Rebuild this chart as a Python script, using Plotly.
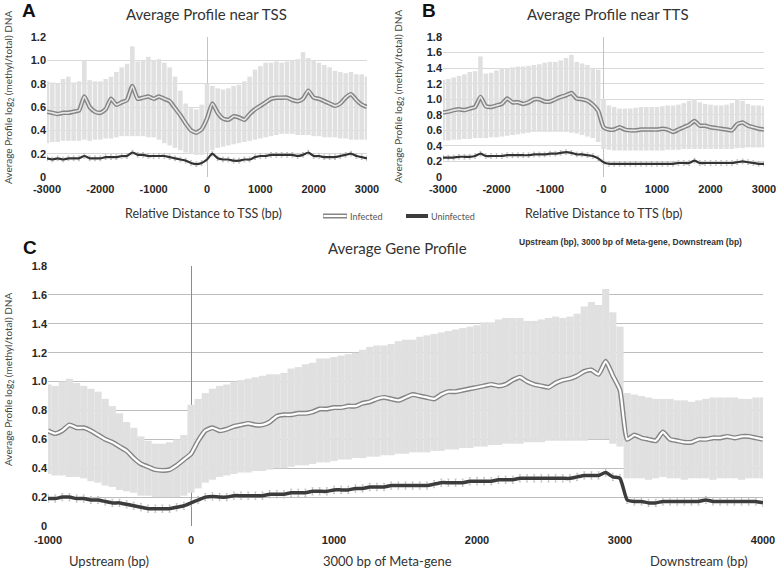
import plotly.graph_objects as go

W, H = 778, 570

# ---------------- Panel A: Average Profile near TSS ----------------
dist_A = list(range(-3000, 3001, 100))
inf_A = [0.56, 0.55, 0.54, 0.55, 0.55, 0.56, 0.57, 0.69, 0.60, 0.56,
         0.55, 0.58, 0.67, 0.62, 0.64, 0.66, 0.78, 0.67, 0.68, 0.69,
         0.67, 0.69, 0.67, 0.65, 0.59, 0.53, 0.46, 0.40, 0.38, 0.41,
         0.50, 0.63, 0.55, 0.50, 0.49, 0.52, 0.51, 0.49, 0.54, 0.58,
         0.61, 0.64, 0.67, 0.68, 0.68, 0.68, 0.66, 0.65, 0.67, 0.74,
         0.68, 0.67, 0.65, 0.63, 0.61, 0.63, 0.68, 0.71, 0.66, 0.62,
         0.60]
inf_up_A = [0.82, 0.81, 0.80, 0.84, 0.86, 0.81, 0.82, 1.00, 0.83, 0.82,
            0.82, 0.84, 0.86, 0.90, 0.94, 0.97, 1.12, 0.99, 1.00, 1.03,
            1.00, 1.01, 0.98, 0.94, 0.86, 0.74, 0.63, 0.59, 0.58, 0.62,
            0.80, 0.78, 0.76, 0.75, 0.76, 0.78, 0.79, 0.82, 0.86, 0.92,
            0.95, 0.98, 0.98, 0.99, 0.98, 0.99, 1.00, 1.01, 1.07, 1.02,
            1.00, 0.98, 0.96, 0.94, 0.91, 0.90, 0.89, 0.90, 0.88, 0.88,
            0.86]
inf_lo_A = [0.29, 0.30, 0.30, 0.31, 0.31, 0.31, 0.31, 0.32, 0.31, 0.32,
            0.32, 0.33, 0.33, 0.34, 0.35, 0.35, 0.35, 0.35, 0.35, 0.34,
            0.34, 0.32, 0.29, 0.27, 0.25, 0.23, 0.21, 0.20, 0.19, 0.19,
            0.21, 0.23, 0.25, 0.26, 0.27, 0.28, 0.29, 0.30, 0.31, 0.32,
            0.33, 0.34, 0.35, 0.36, 0.37, 0.37, 0.37, 0.36, 0.36, 0.36,
            0.35, 0.35, 0.34, 0.34, 0.34, 0.33, 0.33, 0.32, 0.32, 0.32,
            0.32]
uninf_A = [0.16, 0.15, 0.16, 0.15, 0.16, 0.16, 0.16, 0.18, 0.16, 0.16,
           0.16, 0.17, 0.17, 0.17, 0.18, 0.18, 0.21, 0.19, 0.19, 0.18,
           0.18, 0.18, 0.18, 0.17, 0.16, 0.15, 0.14, 0.12, 0.11, 0.12,
           0.15, 0.20, 0.16, 0.15, 0.15, 0.14, 0.14, 0.15, 0.15, 0.17,
           0.18, 0.18, 0.19, 0.19, 0.19, 0.19, 0.19, 0.18, 0.19, 0.21,
           0.18, 0.18, 0.17, 0.17, 0.17, 0.18, 0.19, 0.20, 0.18, 0.17,
           0.16]
uninf_err_A = 0.02

# ---------------- Panel B: Average Profile near TTS ----------------
dist_B = list(range(-3000, 3001, 100))
inf_B = [0.83, 0.84, 0.86, 0.87, 0.86, 0.88, 0.90, 1.03, 0.91, 0.90,
         0.92, 0.94, 1.01, 0.96, 0.96, 0.94, 0.96, 1.00, 1.00, 0.97,
         0.97, 1.00, 1.03, 1.05, 1.08, 1.01, 1.00, 0.98, 0.93, 0.85,
         0.64, 0.61, 0.61, 0.64, 0.61, 0.60, 0.60, 0.61, 0.61, 0.61,
         0.61, 0.62, 0.61, 0.58, 0.61, 0.64, 0.67, 0.72, 0.66, 0.66,
         0.64, 0.63, 0.62, 0.61, 0.60, 0.68, 0.70, 0.66, 0.64, 0.62,
         0.61]
inf_up_B = [1.25, 1.26, 1.28, 1.30, 1.32, 1.35, 1.36, 1.55, 1.33, 1.34,
            1.37, 1.40, 1.40, 1.41, 1.42, 1.42, 1.43, 1.44, 1.45, 1.47,
            1.48, 1.48, 1.50, 1.53, 1.57, 1.48, 1.46, 1.44, 1.40, 1.38,
            1.00, 0.92, 0.90, 0.88, 0.88, 0.88, 0.89, 0.90, 0.90, 0.90,
            0.90, 0.91, 0.92, 0.92, 0.93, 0.95, 0.98, 1.00, 0.96, 0.94,
            0.93, 0.92, 0.92, 0.93, 0.95, 1.00, 0.98, 0.94, 0.92, 0.92,
            0.91]
inf_lo_B = [0.47, 0.47, 0.48, 0.48, 0.49, 0.49, 0.50, 0.50, 0.50, 0.51,
            0.51, 0.52, 0.53, 0.54, 0.55, 0.56, 0.57, 0.58, 0.58, 0.58,
            0.58, 0.58, 0.58, 0.58, 0.57, 0.56, 0.54, 0.52, 0.50, 0.45,
            0.36, 0.35, 0.34, 0.34, 0.34, 0.34, 0.34, 0.34, 0.34, 0.34,
            0.34, 0.34, 0.35, 0.35, 0.35, 0.36, 0.36, 0.36, 0.36, 0.36,
            0.36, 0.36, 0.36, 0.36, 0.36, 0.37, 0.37, 0.38, 0.38, 0.38,
            0.38]
uninf_B = [0.25, 0.25, 0.25, 0.26, 0.26, 0.26, 0.27, 0.30, 0.27, 0.27,
           0.27, 0.27, 0.28, 0.28, 0.28, 0.28, 0.28, 0.29, 0.29, 0.29,
           0.30, 0.30, 0.31, 0.32, 0.31, 0.29, 0.29, 0.28, 0.27, 0.24,
           0.19, 0.17, 0.17, 0.17, 0.17, 0.17, 0.17, 0.17, 0.17, 0.17,
           0.17, 0.17, 0.17, 0.17, 0.18, 0.18, 0.18, 0.21, 0.18, 0.18,
           0.18, 0.18, 0.18, 0.18, 0.18, 0.19, 0.20, 0.19, 0.18, 0.17,
           0.17]
uninf_err_B = 0.03

# ---------------- Panel C: Average Gene Profile ----------------
dist_C = list(range(-1000, 4001, 50))
inf_C = [0.66, 0.64, 0.66, 0.70, 0.68, 0.68, 0.66, 0.63, 0.60, 0.58,
         0.55, 0.52, 0.47, 0.43, 0.41, 0.39, 0.385, 0.39, 0.42, 0.46,
         0.50, 0.59, 0.66, 0.68, 0.66, 0.67, 0.69, 0.70, 0.71, 0.70,
         0.70, 0.72, 0.76, 0.77, 0.77, 0.78, 0.78, 0.79, 0.81, 0.81,
         0.82, 0.82, 0.83, 0.83, 0.85, 0.86, 0.88, 0.89, 0.88, 0.87,
         0.89, 0.91, 0.90, 0.89, 0.88, 0.91, 0.93, 0.93, 0.94, 0.95,
         0.96, 0.97, 0.98, 0.97, 0.98, 1.01, 1.03, 1.00, 0.98, 0.97,
         0.96, 0.99, 1.01, 1.02, 1.04, 1.07, 1.08, 1.05, 1.14, 1.04,
         0.94, 0.60, 0.63, 0.61, 0.60, 0.59, 0.65, 0.60, 0.59, 0.58,
         0.58, 0.60, 0.60, 0.61, 0.61, 0.62, 0.61, 0.62, 0.62, 0.61,
         0.60]
inf_up_C = [0.98, 0.97, 1.00, 1.02, 0.99, 0.97, 0.95, 0.93, 0.88, 0.83,
            0.78, 0.72, 0.68, 0.62, 0.59, 0.57, 0.57, 0.58, 0.60, 0.63,
            0.84, 0.88, 0.92, 0.95, 0.97, 0.98, 1.00, 1.01, 1.02, 1.03,
            1.04, 1.05, 1.05, 1.06, 1.09, 1.10, 1.12, 1.13, 1.16, 1.16,
            1.17, 1.18, 1.19, 1.20, 1.22, 1.24, 1.25, 1.25, 1.26, 1.28,
            1.29, 1.29, 1.31, 1.32, 1.33, 1.34, 1.35, 1.36, 1.37, 1.38,
            1.39, 1.41, 1.41, 1.43, 1.44, 1.44, 1.44, 1.42, 1.42, 1.43,
            1.44, 1.45, 1.44, 1.45, 1.47, 1.52, 1.55, 1.53, 1.64, 1.48,
            1.38, 0.92, 0.91, 0.90, 0.89, 0.88, 0.88, 0.88, 0.87, 0.87,
            0.86, 0.87, 0.88, 0.89, 0.89, 0.89, 0.89, 0.88, 0.88, 0.89,
            0.89]
inf_lo_C = [0.36, 0.35, 0.35, 0.34, 0.34, 0.33, 0.31, 0.30, 0.28, 0.27,
            0.25, 0.24, 0.23, 0.21, 0.21, 0.20, 0.20, 0.20, 0.20, 0.21,
            0.23, 0.26, 0.30, 0.32, 0.34, 0.35, 0.36, 0.37, 0.37, 0.38,
            0.38, 0.39, 0.40, 0.40, 0.41, 0.42, 0.42, 0.43, 0.44, 0.44,
            0.45, 0.46, 0.46, 0.47, 0.47, 0.48, 0.48, 0.49, 0.49, 0.50,
            0.50, 0.51, 0.51, 0.51, 0.52, 0.52, 0.53, 0.53, 0.54, 0.54,
            0.55, 0.55, 0.56, 0.56, 0.57, 0.57, 0.57, 0.58, 0.58, 0.58,
            0.59, 0.59, 0.59, 0.59, 0.59, 0.59, 0.60, 0.60, 0.60, 0.57,
            0.55, 0.33, 0.33, 0.33, 0.32, 0.33, 0.34, 0.33, 0.33, 0.32,
            0.33, 0.33, 0.33, 0.32, 0.33, 0.33, 0.33, 0.32, 0.33, 0.33,
            0.33]
uninf_C = [0.19, 0.19, 0.20, 0.20, 0.19, 0.19, 0.18, 0.18, 0.17, 0.16,
           0.16, 0.15, 0.14, 0.13, 0.12, 0.12, 0.12, 0.12, 0.13, 0.14,
           0.16, 0.18, 0.20, 0.205, 0.20, 0.20, 0.21, 0.21, 0.21, 0.21,
           0.21, 0.22, 0.22, 0.22, 0.23, 0.23, 0.23, 0.24, 0.24, 0.24,
           0.25, 0.25, 0.25, 0.26, 0.26, 0.27, 0.27, 0.27, 0.28, 0.28,
           0.28, 0.28, 0.28, 0.28, 0.29, 0.30, 0.30, 0.30, 0.30, 0.31,
           0.31, 0.31, 0.31, 0.32, 0.32, 0.32, 0.33, 0.33, 0.33, 0.33,
           0.33, 0.33, 0.33, 0.33, 0.34, 0.35, 0.35, 0.35, 0.37, 0.34,
           0.33, 0.18, 0.17, 0.17, 0.16, 0.16, 0.17, 0.17, 0.17, 0.17,
           0.17, 0.17, 0.18, 0.17, 0.17, 0.17, 0.17, 0.17, 0.17, 0.17,
           0.16]
uninf_err_C = 0.025

# ---------------- tick labels ----------------
xt_AB = [-3000, -2000, -1000, 0, 1000, 2000, 3000]
xt_AB_text = ["-3000", "-2000", "-1000", "0", "1000", "2000", "3000"]
yt_A = [0, 0.2, 0.4, 0.6, 0.8, 1.0, 1.2]
yt_A_text = ["0", "0.2", "0.4", "0.6", "0.8", "1.0", "1.2"]
yt_B = [0, 0.2, 0.4, 0.6, 0.8, 1.0, 1.2, 1.4, 1.6, 1.8]
yt_B_text = ["0", "0.2", "0.4", "0.6", "0.8", "1.0", "1.2", "1.4", "1.6", "1.8"]
xt_C = [-1000, 0, 1000, 2000, 3000, 4000]
xt_C_text = ["-1000", "0", "1000", "2000", "3000", "4000"]

TXT = "Lato, Open Sans, sans-serif"
NUM = "Arial, Liberation Sans, sans-serif"


def px(x):
    return x / W


def py(y):
    return 1 - y / H


fig = go.Figure()


def add_panel(xs, lo, up, inf, unin, err, xa, ya, barw, band_col,
              outer_w, inner_w, inner_col, unin_w, unin_col):
    fig.add_trace(go.Bar(
        x=xs, y=[u - l for u, l in zip(up, lo)], base=lo, width=barw,
        marker=dict(color=band_col, line=dict(width=0)),
        xaxis=xa, yaxis=ya, showlegend=False, hoverinfo="skip"))
    fig.add_trace(go.Scatter(
        x=xs, y=unin, mode="lines",
        line=dict(color=unin_col, width=unin_w, shape="spline", smoothing=0.5),
        error_y=dict(type="constant", value=err, color="#c2c2c2",
                     thickness=1, width=1),
        xaxis=xa, yaxis=ya, showlegend=False, hoverinfo="skip"))
    fig.add_trace(go.Scatter(
        x=xs, y=inf, mode="lines",
        line=dict(color="#858585", width=outer_w, shape="spline", smoothing=0.5),
        xaxis=xa, yaxis=ya, showlegend=False, hoverinfo="skip"))
    fig.add_trace(go.Scatter(
        x=xs, y=inf, mode="lines",
        line=dict(color=inner_col, width=inner_w, shape="spline", smoothing=0.5),
        xaxis=xa, yaxis=ya, showlegend=False, hoverinfo="skip"))


add_panel(dist_A, inf_lo_A, inf_up_A, inf_A, uninf_A, uninf_err_A, "x", "y",
          85, "#e0e0e0", 4.5, 1.6, "#e6e6e6", 2.2, "#333333")
add_panel(dist_B, inf_lo_B, inf_up_B, inf_B, uninf_B, uninf_err_B, "x2", "y2",
          85, "#e0e0e0", 4.5, 1.6, "#e6e6e6", 2.2, "#333333")
add_panel(dist_C, inf_lo_C, inf_up_C, inf_C, uninf_C, uninf_err_C, "x3", "y3",
          50, "#e0e0e0", 5, 2.2, "#ffffff", 3.5, "#3c3c3c")

tickfont = dict(family=NUM, size=11, color="#262626", weight="bold")


def xaxis(dom, rng, tv, tt, zc, standoff, anchor):
    return dict(domain=dom, range=rng, tickvals=tv, ticktext=tt,
                showgrid=False, zeroline=True, zerolinecolor=zc,
                zerolinewidth=1, showline=False, ticks="",
                tickfont=tickfont, ticklabelstandoff=standoff,
                automargin=False, fixedrange=True, anchor=anchor)


def yaxis(dom, rng, tv, tt, gc, gw, anchor):
    return dict(domain=dom, range=rng, tickvals=tv, ticktext=tt,
                showgrid=True, gridcolor=gc, gridwidth=gw, zeroline=False,
                showline=False, ticks="", tickfont=tickfont,
                automargin=False, fixedrange=True, anchor=anchor)


annotations = []


def ann(text, x, y, size, family=TXT, color="#333333", angle=0, weight="normal",
        xanchor="center"):
    annotations.append(dict(
        text=text, x=px(x), y=py(y), xref="paper", yref="paper",
        showarrow=False, textangle=angle, xanchor=xanchor, yanchor="middle",
        font=dict(family=family, size=size, color=color, weight=weight)))


# panel letters
ann("A", 29, 10, 19, family=NUM, color="#111111", weight="bold")
ann("B", 429, 10, 19, family=NUM, color="#111111", weight="bold")
ann("C", 30, 247, 19, family=NUM, color="#111111", weight="bold")

# titles
ann("Average Profile near TSS", 206, 14, 15)
ann("Average Profile near TTS", 608, 14, 15)
ann("Average Gene Profile", 398, 248, 15)
ann("Upstream (bp), 3000 bp of Meta-gene, Downstream (bp)", 630, 242, 8.5,
    family=NUM, weight="bold")

# axis titles
ann("Relative Distance to TSS (bp)", 203, 213, 12.5)
ann("Relative Distance to TTS (bp)", 603, 213, 12.5)
ann("Upstream (bp)", 109, 561, 13)
ann("3000 bp of Meta-gene", 387, 561, 13)
ann("Downstream (bp)", 699, 561, 13)
ytitle = "Average Profile log<sub>2</sub> (methyl/total) DNA"
ann(ytitle, 9, 98, 10, color="#444444", angle=-90)
ann(ytitle, 399, 97, 10, color="#444444", angle=-90)
ann(ytitle, 8, 380, 10, color="#444444", angle=-90)

# legend texts
ann("Infected", 348, 216, 9, color="#555555", xanchor="left")
ann("Uninfected", 429, 216, 9, color="#555555", xanchor="left")

shapes = [
    dict(type="line", xref="paper", yref="paper", x0=px(323), x1=px(347),
         y0=py(216), y1=py(216), line=dict(color="#858585", width=5)),
    dict(type="line", xref="paper", yref="paper", x0=px(323.5), x1=px(346.5),
         y0=py(216), y1=py(216), line=dict(color="#ffffff", width=2)),
    dict(type="line", xref="paper", yref="paper", x0=px(406), x1=px(428),
         y0=py(216), y1=py(216), line=dict(color="#3c3c3c", width=4)),
]

fig.update_layout(
    width=W, height=H,
    margin=dict(l=0, r=0, t=0, b=0, pad=0, autoexpand=False),
    paper_bgcolor="white", plot_bgcolor="white", barmode="overlay",
    showlegend=False,
    xaxis=xaxis([px(47), px(367)], [-3000, 3000], xt_AB, xt_AB_text, "#c4c4c4", 4, "y"),
    yaxis=yaxis([py(177), py(37)], [0, 1.2], yt_A, yt_A_text, "#d9d9d9", 1, "x"),
    xaxis2=xaxis([px(443), px(764)], [-3000, 3000], xt_AB, xt_AB_text, "#c4c4c4", 4, "y2"),
    yaxis2=yaxis([py(177), py(37)], [0, 1.8], yt_B, yt_B_text, "#d9d9d9", 1, "x2"),
    xaxis3=xaxis([px(48), px(763)], [-1000, 4000], xt_C, xt_C_text, "#8c8c8c", 6, "y3"),
    yaxis3=yaxis([py(526), py(266)], [0, 1.8], yt_B, yt_B_text, "#bdbdbd", 1.2, "x3"),
    annotations=annotations, shapes=shapes,
)

fig.write_html(
    "out.html",
    config={"displayModeBar": False, "staticPlot": True},
    post_script="document.body.style.margin='0px';"
                "document.body.style.overflow='hidden';")
